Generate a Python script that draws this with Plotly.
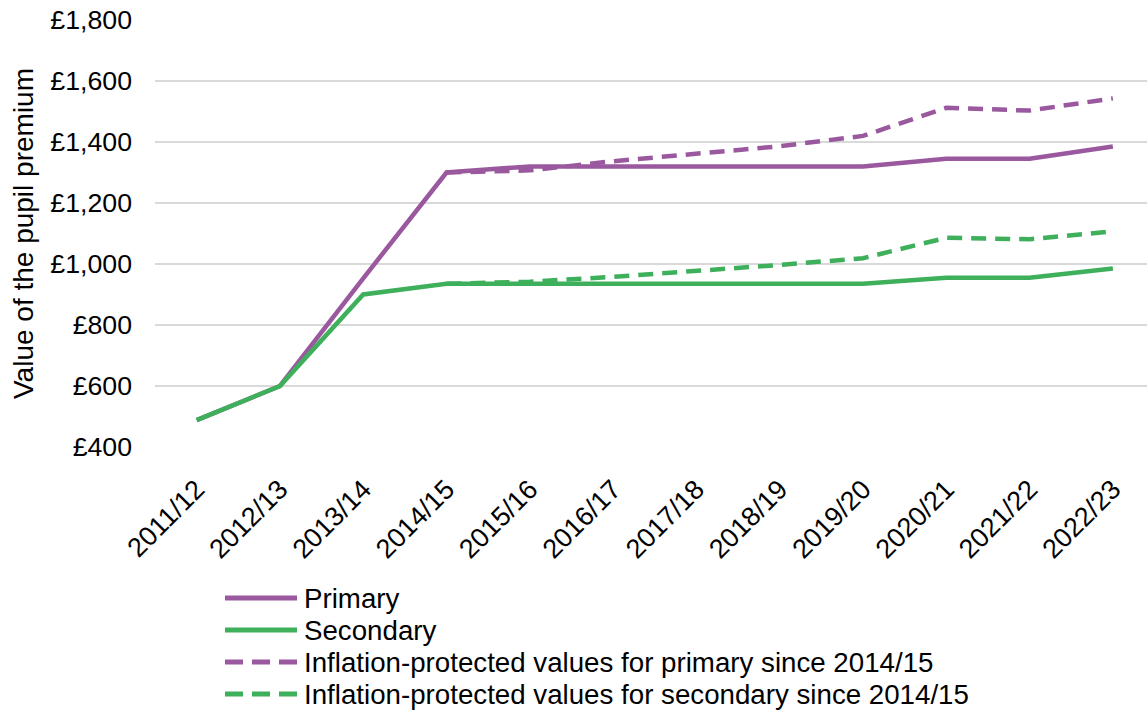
import plotly.graph_objects as go

years = ["2011/12", "2012/13", "2013/14", "2014/15", "2015/16", "2016/17",
         "2017/18", "2018/19", "2019/20", "2020/21", "2021/22", "2022/23"]
primary = [488, 600, 953, 1300, 1320, 1320, 1320, 1320, 1320, 1345, 1345, 1385]
secondary = [488, 600, 900, 935, 935, 935, 935, 935, 935, 955, 955, 985]
years_infl = years[3:]
primary_infl = [1300, 1307, 1337, 1360, 1386, 1420, 1512, 1503, 1543]
secondary_infl = [935, 942, 958, 977, 997, 1019, 1086, 1081, 1107]
y_ticks = [400, 600, 800, 1000, 1200, 1400, 1600, 1800]
y_labels = ["£400", "£600", "£800", "£1,000", "£1,200", "£1,400", "£1,600", "£1,800"]

PURPLE = "#9A589F"
GREEN = "#3EAF5B"
FONT = "Liberation Sans, Arial, sans-serif"
W, H = 1147, 713
ML, MR, MT, MB = 155, 0, 20, 266
PW, PH = W - ML - MR, H - MT - MB

series = [
    ("Primary", years, primary, PURPLE, "solid"),
    ("Secondary", years, secondary, GREEN, "solid"),
    ("Inflation-protected values for primary since 2014/15", years_infl, primary_infl, PURPLE, "15px,9px"),
    ("Inflation-protected values for secondary since 2014/15", years_infl, secondary_infl, GREEN, "15px,9px"),
]

fig = go.Figure()
for name, xs, ys, col, dash in series:
    fig.add_trace(go.Scatter(x=xs, y=ys, mode="lines", name=name,
                             line=dict(color=col, width=4.5, dash=dash)))

# custom legend below the plot (pixel layout converted to paper coords)
def px_x(p):
    return (p - ML) / PW

def px_y(p):
    return (H - MB - p) / PH

for i, (name, xs, ys, col, dash) in enumerate(series):
    yc = 598 + 32 * i
    fig.add_shape(type="line", xref="paper", yref="paper",
                  x0=px_x(225), x1=px_x(297), y0=px_y(yc), y1=px_y(yc),
                  line=dict(color=col, width=5,
                            dash="solid" if dash == "solid" else "18px,9px"))
    fig.add_annotation(xref="paper", yref="paper", x=px_x(302), y=px_y(yc),
                       text=name, showarrow=False, xanchor="left", yanchor="middle",
                       font=dict(family=FONT, size=27.7, color="black"))

fig.update_layout(
    width=W, height=H,
    margin=dict(l=ML, r=MR, t=MT, b=MB, autoexpand=False),
    paper_bgcolor="white", plot_bgcolor="white",
    font=dict(family=FONT, size=26.7, color="black"),
    showlegend=False,
    hovermode=False,
)
fig.update_xaxes(type="category", categoryorder="array", categoryarray=years,
                 range=[-0.5, 11.41], tickangle=-45, showgrid=False,
                 showline=False, ticks="", ticklabelstandoff=20,
                 tickfont=dict(size=27))
fig.update_yaxes(range=[400, 1800], tickvals=y_ticks, ticktext=y_labels,
                 showgrid=True, gridcolor="#D9D9D9", gridwidth=1.5,
                 zeroline=False, showline=False, ticks="",
                 ticklabelstandoff=22, tickfont=dict(size=26.7),
                 title=dict(text="Value of the pupil premium", font=dict(size=28), standoff=8))

fig.write_html("out.html")
